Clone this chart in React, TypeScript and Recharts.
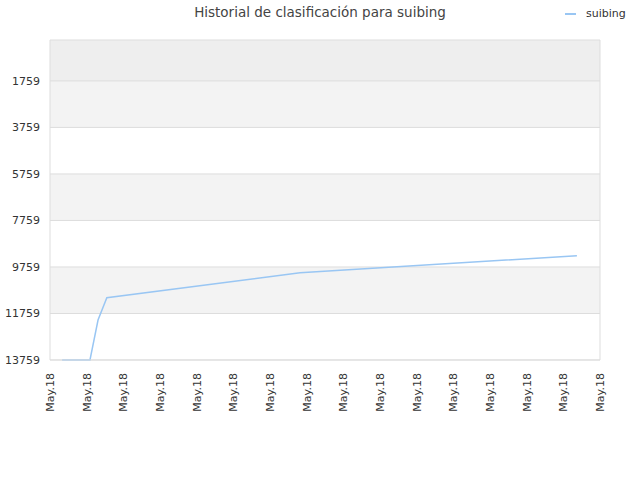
import React from "react";
import {
  LineChart,
  Line,
  XAxis,
  YAxis,
  ReferenceArea,
  ReferenceLine,
} from "recharts";

// positions along the date axis (tick index units) and the rank read at each
const dayPos = [0.33, 1.09, 1.31, 1.55, 6.82, 14.37];
const rank = [13759, 13759, 12040, 11082, 10006, 9275];

const xTicks = [0, 1, 2, 3, 4, 5, 6, 7, 8, 9, 10, 11, 12, 13, 14, 15];
const xTickLabels = [
  "May.18", "May.18", "May.18", "May.18", "May.18", "May.18", "May.18", "May.18",
  "May.18", "May.18", "May.18", "May.18", "May.18", "May.18", "May.18", "May.18",
];
const yTicks = [1759, 3759, 5759, 7759, 9759, 11759, 13759];

const title = "Historial de clasificación para suibing";
const seriesName = "suibing";

const data = dayPos.map((x, i) => ({ x, rank: rank[i] }));

const bandFills = ["#eeeeee", "#f3f3f3", "#ffffff", "#f3f3f3", "#ffffff", "#f3f3f3", "#ffffff"];
const bandEdges = [0, ...yTicks];

const font = "'DejaVu Sans', Verdana, sans-serif";
const lineColor = "#99c6f3";

function XTick({ x, y, payload }: any) {
  return (
    <text
      x={x}
      y={y + 5}
      dy={4}
      transform={`rotate(-90 ${x} ${y + 5})`}
      textAnchor="end"
      fontSize={11}
      fill="#333"
      fontFamily={font}
    >
      {xTickLabels[payload.index] ?? "May.18"}
    </text>
  );
}

function YTick({ x, y, payload }: any) {
  return (
    <text x={x - 2} y={y} dy={4} textAnchor="end" fontSize={11} fill="#333" fontFamily={font}>
      {payload.value}
    </text>
  );
}

export default function App() {
  return (
    <div style={{ position: "fixed", left: 0, top: 0, width: 640, height: 480, background: "#fff", fontFamily: font }}>
      <div style={{ position: "absolute", left: 0, width: 640, top: 4, textAlign: "center", fontSize: 13.5, color: "#444" }}>
        {title}
      </div>
      <div style={{ position: "absolute", left: 565, top: 7, display: "flex", alignItems: "center", fontSize: 11, color: "#333" }}>
        <span style={{ display: "inline-block", width: 11, height: 2, background: lineColor, marginRight: 10 }} />
        {seriesName}
      </div>
      <LineChart width={640} height={480} data={data} margin={{ top: 40, right: 40, bottom: 0, left: 0 }}>
        {bandFills.map((fill, i) => (
          <ReferenceArea key={i} y1={bandEdges[i]} y2={bandEdges[i + 1]} fill={fill} fillOpacity={1} stroke="none" />
        ))}
        {bandEdges.map((v) => (
          <ReferenceLine key={v} y={v} stroke="#dddddd" />
        ))}
        <ReferenceLine x={15} stroke="#dddddd" />
        <XAxis
          dataKey="x"
          type="number"
          domain={[0, 15]}
          ticks={xTicks}
          interval={0}
          height={120}
          tickLine={false}
          axisLine={{ stroke: "#dddddd" }}
          tick={<XTick />}
        />
        <YAxis
          type="number"
          reversed
          domain={[0, 13759]}
          ticks={yTicks}
          interval={0}
          width={50}
          tickLine={false}
          axisLine={{ stroke: "#dddddd" }}
          tick={<YTick />}
        />
        <Line
          dataKey="rank"
          type="linear"
          stroke={lineColor}
          strokeWidth={1.5}
          dot={false}
          isAnimationActive={false}
        />
      </LineChart>
    </div>
  );
}
